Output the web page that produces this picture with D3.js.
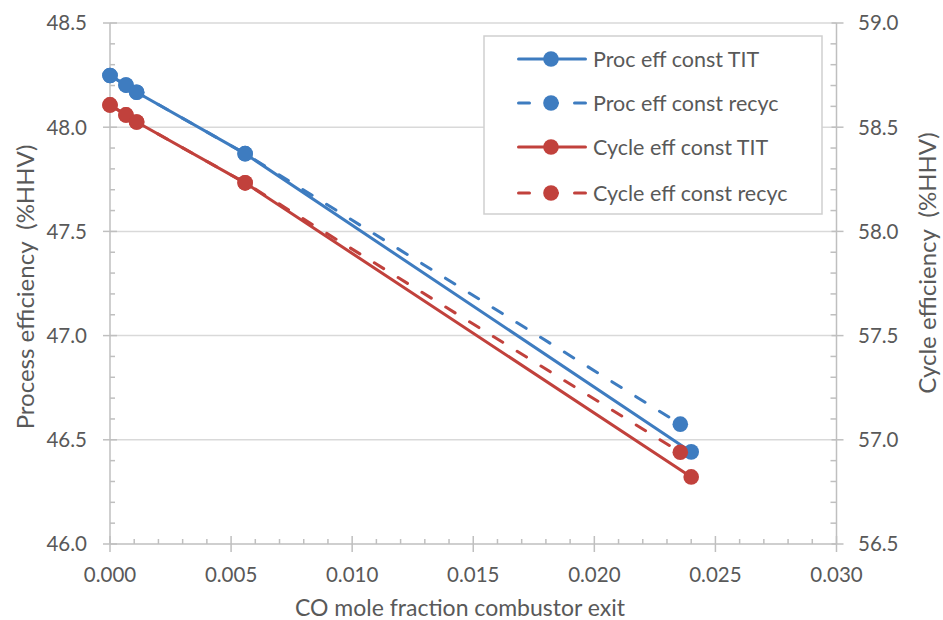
<!DOCTYPE html>
<html>
<head>
<meta charset="utf-8">
<script src="https://cdn.jsdelivr.net/npm/d3@7"></script>
<style>
  html, body { margin: 0; padding: 0; background: #fff; }
  svg { display: block; font-family: Lato, "Open Sans", sans-serif; }
</style>
</head>
<body>
<svg id="chart" width="943" height="620"></svg>
<script>
// CO mole fraction at the combustor exit for each case
const coFracTIT   = [0, 0.00066, 0.0011, 0.00558, 0.0240];
const coFracRecyc = [0, 0.00066, 0.0011, 0.00558, 0.02355];

// Process efficiency (%HHV), left axis
const procEffTIT   = [48.248, 48.202, 48.168, 47.873, 46.442];
const procEffRecyc = [48.248, 48.202, 48.168, 47.873, 46.575];

// Cycle efficiency (%HHV), right axis
const cycleEffTIT   = [58.607, 58.559, 58.525, 58.233, 56.822];
const cycleEffRecyc = [58.607, 58.559, 58.525, 58.233, 56.940];

const seriesNames = ["Proc eff const TIT", "Proc eff const recyc", "Cycle eff const TIT", "Cycle eff const recyc"];

const xTicks = [0, 0.005, 0.010, 0.015, 0.020, 0.025, 0.030];
const yLeftTicks = [46.0, 46.5, 47.0, 47.5, 48.0, 48.5];
const yRightTicks = [56.5, 57.0, 57.5, 58.0, 58.5, 59.0];

const BLUE = "#3e7cc0", RED = "#c1413c";
const AXIS = "#bfbfbf", GRID = "#d9d9d9", TEXT = "#595959";

const svg = d3.select("#chart");
const plot = { left: 110, right: 836.5, top: 23, bottom: 544 };

const x = d3.scaleLinear().domain([0, 0.030]).range([plot.left, plot.right]);
const yL = d3.scaleLinear().domain([46.0, 48.5]).range([plot.bottom, plot.top]);
const yR = d3.scaleLinear().domain([56.5, 59.0]).range([plot.bottom, plot.top]);

// horizontal gridlines
svg.append("g").selectAll("line").data(yLeftTicks.slice(1)).join("line")
  .attr("x1", plot.left).attr("x2", plot.right)
  .attr("y1", d => yL(d)).attr("y2", d => yL(d))
  .attr("stroke", GRID).attr("stroke-width", 1.5);

// minor tick values
const xMinor = d3.range(0, 31).map(i => i * 0.001).filter((d, i) => i % 5 !== 0);
const yLMinor = d3.range(0, 26).map(i => 46 + i * 0.1).filter((d, i) => i % 5 !== 0);
const yRMinor = d3.range(0, 26).map(i => 56.5 + i * 0.1).filter((d, i) => i % 5 !== 0);

const axes = svg.append("g").attr("stroke", AXIS).attr("stroke-width", 1.5);
// axis lines
axes.append("line").attr("x1", plot.left).attr("x2", plot.left).attr("y1", plot.top).attr("y2", plot.bottom);
axes.append("line").attr("x1", plot.right).attr("x2", plot.right).attr("y1", plot.top).attr("y2", plot.bottom);
axes.append("line").attr("x1", plot.left).attr("x2", plot.right).attr("y1", plot.bottom).attr("y2", plot.bottom);

// left ticks
axes.append("g").selectAll("line").data(yLeftTicks).join("line")
  .attr("x1", plot.left - 7).attr("x2", plot.left + 7)
  .attr("y1", d => yL(d)).attr("y2", d => yL(d));
axes.append("g").selectAll("line").data(yLMinor).join("line")
  .attr("x1", plot.left).attr("x2", plot.left + 5)
  .attr("y1", d => yL(d)).attr("y2", d => yL(d));
// right ticks
axes.append("g").selectAll("line").data(yRightTicks).join("line")
  .attr("x1", plot.right - 5).attr("x2", plot.right + 7)
  .attr("y1", d => yR(d)).attr("y2", d => yR(d));
axes.append("g").selectAll("line").data(yRMinor).join("line")
  .attr("x1", plot.right - 6).attr("x2", plot.right)
  .attr("y1", d => yR(d)).attr("y2", d => yR(d));
// bottom ticks
axes.append("g").selectAll("line").data(xTicks).join("line")
  .attr("x1", d => x(d)).attr("x2", d => x(d))
  .attr("y1", plot.bottom - 8).attr("y2", plot.bottom + 8);
axes.append("g").selectAll("line").data(xMinor).join("line")
  .attr("x1", d => x(d)).attr("x2", d => x(d))
  .attr("y1", plot.bottom - 5).attr("y2", plot.bottom);

// tick labels
const lab = svg.append("g").attr("fill", TEXT).style("font-size", "20.5px");
lab.append("g").selectAll("text").data(yLeftTicks).join("text")
  .attr("x", 87).attr("y", d => yL(d)).attr("dy", "0.36em")
  .attr("text-anchor", "end").text(d3.format(".1f"));
lab.append("g").selectAll("text").data(yRightTicks).join("text")
  .attr("x", 858).attr("y", d => yR(d)).attr("dy", "0.36em")
  .attr("text-anchor", "start").text(d3.format(".1f"));
lab.append("g").selectAll("text").data(xTicks).join("text")
  .attr("x", d => x(d)).attr("y", 582)
  .attr("text-anchor", "middle").text(d3.format(".3f"));

// axis titles
const titles = svg.append("g").attr("fill", TEXT);
titles.append("text").attr("x", 460).attr("y", 616).attr("text-anchor", "middle")
  .style("font-size", "23px")
  .text("CO mole fraction combustor exit");
titles.append("text").attr("transform", "translate(34,287) rotate(-90)")
  .attr("text-anchor", "middle").attr("xml:space", "preserve").style("white-space", "pre")
  .style("font-size", "24px")
  .text("Process efficiency  (%HHV)");
titles.append("text").attr("transform", "translate(936,263) rotate(-90)")
  .attr("text-anchor", "middle").attr("xml:space", "preserve").style("white-space", "pre")
  .style("font-size", "24px")
  .text("Cycle efficiency  (%HHV)");

// series
const DASH = "11,17";
const series = [
  { name: seriesNames[0], xs: coFracTIT,   ys: procEffTIT,    scale: yL, color: BLUE, dash: null },
  { name: seriesNames[1], xs: coFracRecyc, ys: procEffRecyc,  scale: yL, color: BLUE, dash: DASH },
  { name: seriesNames[2], xs: coFracTIT,   ys: cycleEffTIT,   scale: yR, color: RED,  dash: null },
  { name: seriesNames[3], xs: coFracRecyc, ys: cycleEffRecyc, scale: yR, color: RED,  dash: DASH }
];

series.forEach(s => {
  const pts = s.xs.map((v, i) => [v, s.ys[i]]);
  const line = d3.line().x(d => x(d[0])).y(d => s.scale(d[1]));
  const g = svg.append("g");
  g.append("path").datum(pts).attr("d", line)
    .attr("fill", "none").attr("stroke", s.color).attr("stroke-width", 3)
    .attr("stroke-linecap", "round").attr("stroke-linejoin", "round")
    .attr("stroke-dasharray", s.dash);
  g.selectAll("circle").data(pts).join("circle")
    .attr("cx", d => x(d[0])).attr("cy", d => s.scale(d[1])).attr("r", 7.8)
    .attr("fill", s.color);
});

// legend
const legend = svg.append("g");
legend.append("rect").attr("x", 484).attr("y", 36).attr("width", 338).attr("height", 178)
  .attr("fill", "#fff").attr("stroke", "#cfcfcf").attr("stroke-width", 1.5);
const rowY = [59, 103, 147, 193];
series.forEach((s, i) => {
  const g = legend.append("g").attr("transform", `translate(0,${rowY[i]})`);
  g.append("line").attr("x1", 518.5).attr("x2", 585.5).attr("y1", 0).attr("y2", 0)
    .attr("stroke", s.color).attr("stroke-width", 3).attr("stroke-linecap", "round")
    .attr("stroke-dasharray", s.dash);
  g.append("circle").attr("cx", 551).attr("cy", 0).attr("r", 7.8).attr("fill", s.color);
  g.append("text").attr("x", 593).attr("y", 0).attr("dy", "0.35em")
    .attr("fill", TEXT).style("font-size", "21.5px").text(s.name);
});
</script>
</body>
</html>
